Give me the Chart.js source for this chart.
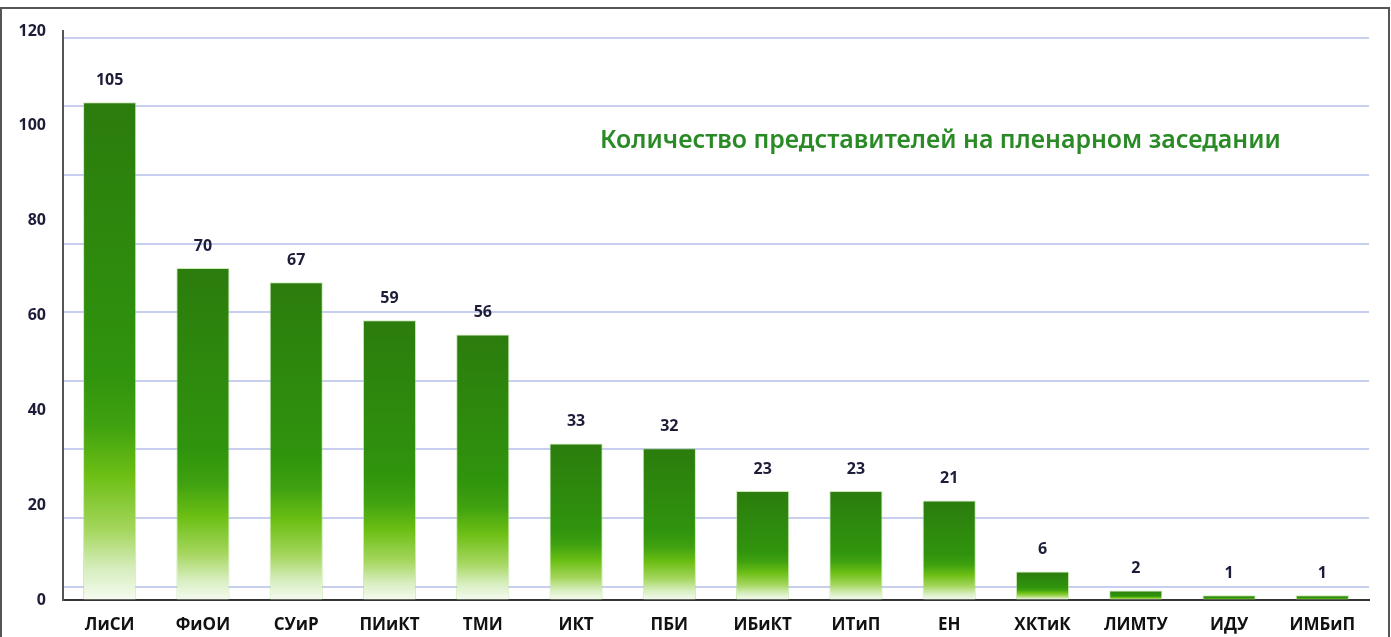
<!DOCTYPE html>
<html>
<head>
<meta charset="utf-8">
<script src="https://cdn.jsdelivr.net/npm/chart.js@4"></script>
<style>
  html, body { margin: 0; padding: 0; background: #fff; }
  #wrap { position: relative; width: 1391px; height: 637px; }
</style>
</head>
<body>
<div id="wrap"><canvas id="grafico" width="1391" height="637"></canvas></div>
<script>
// dados
const institutos = ['ЛиСИ', 'ФиОИ', 'СУиР', 'ПИиКТ', 'ТМИ', 'ИКТ', 'ПБИ', 'ИБиКТ', 'ИТиП', 'ЕН', 'ХКТиК', 'ЛИМТУ', 'ИДУ', 'ИМБиП'];
const representantes = [105, 70, 67, 59, 56, 33, 32, 23, 23, 21, 6, 2, 1, 1];
const yTicks = [0, 20, 40, 60, 80, 100, 120];
const titulo = 'Количество представителей на пленарном заседании';

// gradiente por barra (escuro em cima, claro embaixo)
function corBarra(c) {
  const chart = c.chart;
  if (!chart.chartArea || c.type !== 'data') return '#2f900d';
  const y = chart.scales.y;
  const topo = y.getPixelForValue(c.raw);
  const base = y.getPixelForValue(0);
  if (base - topo < 1) return '#2f900d';
  const g = chart.ctx.createLinearGradient(0, topo, 0, base);
  g.addColorStop(0, '#2b7c0d');
  g.addColorStop(0.55, '#30940d');
  g.addColorStop(0.65, '#40a210');
  g.addColorStop(0.75, '#6cbf14');
  g.addColorStop(0.86, '#a5d65e');
  g.addColorStop(0.94, '#d8eec0');
  g.addColorStop(1, '#f6fbf0');
  return g;
}

const rotulos = {
  id: 'rotulos',
  afterDatasetsDraw(chart) {
    const ctx = chart.ctx;
    const meta = chart.getDatasetMeta(0);
    ctx.save();
    ctx.font = 'bold 16px "Open Sans", sans-serif';
    ctx.fillStyle = '#1d1d3a';
    ctx.textAlign = 'center';
    ctx.textBaseline = 'middle';
    meta.data.forEach((bar, i) => {
      ctx.fillText(representantes[i], bar.x, bar.y - 22);
    });
    // titulo dentro da area
    ctx.font = '600 20px "Noto Sans", sans-serif';
    const tam = 20 * 681 / ctx.measureText(titulo).width;
    ctx.font = '600 ' + tam.toFixed(1) + 'px "Noto Sans", sans-serif';
    ctx.fillStyle = '#2a8a26';
    ctx.textAlign = 'left';
    ctx.fillText(titulo, 600, 141);
    ctx.restore();
  }
};

const moldura = {
  id: 'moldura',
  beforeDraw(chart) {
    const ctx = chart.ctx;
    ctx.save();
    ctx.fillStyle = '#fff';
    ctx.fillRect(0, 0, chart.width, chart.height);
    ctx.strokeStyle = '#555';
    ctx.lineWidth = 2;
    ctx.beginPath();
    ctx.moveTo(1, 640);
    ctx.lineTo(1, 8);
    ctx.lineTo(1389, 8);
    ctx.lineTo(1389, 640);
    ctx.stroke();
    ctx.restore();
  }
};

new Chart(document.getElementById('grafico'), {
  type: 'bar',
  data: {
    labels: institutos,
    datasets: [{
      data: representantes,
      backgroundColor: corBarra,
      borderColor: 'rgba(170,220,130,0.6)',
      borderWidth: 1,
      barPercentage: 0.57,
      categoryPercentage: 1,
      yAxisID: 'y'
    }]
  },
  options: {
    responsive: false,
    animation: false,
    layout: { padding: { top: 31, left: 13, right: 22, bottom: 0 } },
    plugins: { legend: { display: false }, tooltip: { enabled: false } },
    scales: {
      x: {
        afterFit: s => { s.height = 37; },
        grid: { display: false, drawTicks: false },
        border: { display: true, color: '#333', width: 2 },
        ticks: { color: '#111', font: { family: '"Open Sans", sans-serif', size: 17, weight: 'bold' }, padding: 15 }
      },
      y: {
        min: 0,
        max: 120,
        afterBuildTicks: s => { s.ticks = yTicks.map(v => ({ value: v })); },
        afterFit: s => { s.width = 50; },
        grid: { color: 'transparent', drawTicks: false },
        border: { display: true, color: '#555', width: 2 },
        ticks: { color: '#1d1d3a', font: { family: '"Open Sans", sans-serif', size: 16, weight: 'bold' }, padding: 17 }
      },
      // linhas de grade decorativas (nao batem com os ticks no original)
      grade: {
        position: 'left',
        min: -0.194,
        max: 8.098,
        z: 1,
        afterBuildTicks: s => { s.ticks = [0, 1, 2, 3, 4, 5, 6, 7, 8].map(v => ({ value: v })); },
        afterFit: s => { s.width = 0; },
        ticks: { display: false },
        grid: { color: 'rgba(110,130,210,0.38)', lineWidth: 2, drawTicks: false },
        border: { display: false }
      }
    }
  },
  plugins: [moldura, rotulos]
});
</script>
</body>
</html>
